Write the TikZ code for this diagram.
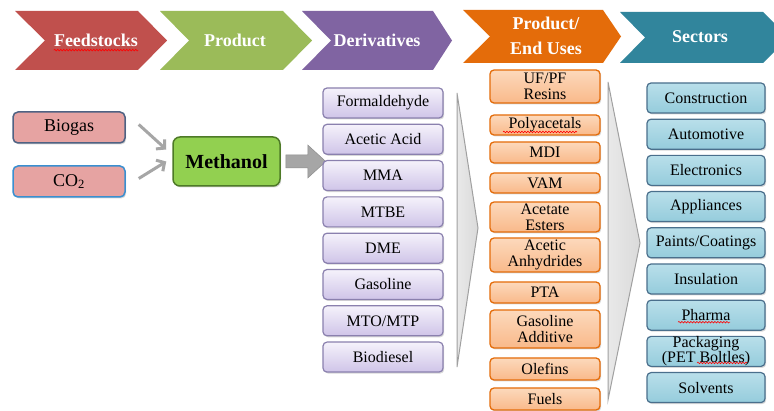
\documentclass[tikz,border=0pt]{standalone}
\usepackage{fontspec}
\setmainfont{Liberation Serif}
\usetikzlibrary{arrows.meta,calc,decorations.pathmorphing,shadows}

\definecolor{redC}{HTML}{C0504D}
\definecolor{greenC}{HTML}{9BBB59}
\definecolor{purpleC}{HTML}{8064A2}
\definecolor{orangeC}{HTML}{E46C0A}
\definecolor{tealC}{HTML}{31859C}
\definecolor{pinkFill}{HTML}{E6A3A2}
\definecolor{slateLine}{HTML}{4F6283}
\definecolor{blueLine}{HTML}{3A8FD0}
\definecolor{methFill}{HTML}{92D050}
\definecolor{methLine}{HTML}{4E7A27}
\definecolor{derTop}{HTML}{F5F2FB}
\definecolor{derBot}{HTML}{CFC4E8}
\definecolor{derLine}{HTML}{8A80AE}
\definecolor{euTop}{HTML}{FCD9BC}
\definecolor{euBot}{HTML}{F9B98A}
\definecolor{euLine}{HTML}{E46C0A}
\definecolor{secTop}{HTML}{B9DFEA}
\definecolor{secBot}{HTML}{95CCDC}
\definecolor{secLine}{HTML}{4A6F8C}
\definecolor{arrowGray}{HTML}{A6A6A6}
\definecolor{wedgeFill}{HTML}{DADADA}
\definecolor{wedgeLine}{HTML}{A0A0A0}

\tikzset{
  softshadow/.style={drop shadow={shadow xshift=1.2pt, shadow yshift=-1.5pt,
    opacity=0.25, fill=black!60}},
  hdr/.style={text=white, inner sep=0pt, align=center,
    font=\fontsize{18}{25}\selectfont\bfseries},
  srcbox/.style={fill=pinkFill, line width=1.5pt, rounded corners=5pt,
    minimum width=112pt, minimum height=31pt, inner sep=0pt, softshadow,
    font=\fontsize{18}{18}\selectfont},
  methbox/.style={fill=methFill, draw=methLine, line width=1.5pt,
    rounded corners=7pt, minimum width=107pt, minimum height=49pt,
    inner sep=0pt, softshadow, font=\fontsize{20}{20}\selectfont\bfseries},
  derbox/.style={draw=derLine, line width=1.2pt, rounded corners=4pt,
    top color=derTop, bottom color=derBot, minimum width=120pt,
    minimum height=30pt, inner sep=0pt, softshadow,
    font=\fontsize{16}{16}\selectfont},
  eubox/.style={draw=euLine, line width=1.3pt, rounded corners=4pt,
    top color=euTop, bottom color=euBot, minimum width=110pt,
    inner sep=0pt, align=center, softshadow,
    font=\fontsize{16}{16}\selectfont},
  secbox/.style={draw=secLine, line width=1.2pt, rounded corners=4pt,
    top color=secTop, bottom color=secBot, minimum width=118pt,
    minimum height=30pt, inner sep=0pt, align=center, softshadow,
    font=\fontsize{16}{16}\selectfont},
  feedarrow/.style={draw=arrowGray, line width=3pt,
    -{Straight Barb[length=6pt,width=13pt]}},
  wedge/.style={left color=wedgeFill!60!white, right color=wedgeFill,
    draw=wedgeLine, line width=1pt},
  spell/.style={draw=red, line width=0.6pt,
    decorate, decoration={snake, amplitude=0.8pt, segment length=3pt}},
}

\begin{document}
\begin{tikzpicture}[x=1pt,y=-1pt]
\clip (0,0) rectangle (774,411);
\fill[white] (0,0) rectangle (774,411);

% header chevrons
\fill[redC]    (15,11) -- (138,11) -- (167,40.5) -- (138,70) -- (15,70) -- (45,40.5) -- cycle;
\fill[greenC]  (160,11) -- (283,11) -- (312,40.5) -- (283,70) -- (160,70) -- (189,40.5) -- cycle;
\fill[purpleC] (302,11) -- (433,11) -- (452,40.5) -- (433,70) -- (302,70) -- (331,40.5) -- cycle;
\fill[orangeC] (463,10) -- (603,10) -- (621,36.5) -- (603,63) -- (463,63) -- (490,36.5) -- cycle;
\fill[tealC]   (620,12) -- (763,12) -- (789,37.5) -- (763,63) -- (620,63) -- (645,37.5) -- cycle;

\node[hdr] (hfeed) at (96,40) {Feedstocks};
\node[hdr] (hprod) at (235,40) {Product};
\node[hdr] (hderiv) at (377,40) {Derivatives};
\node[hdr] (hend) at (546,36) {Product/\\End Uses};
\node[hdr] (hsect) at (700,37) {Sectors};
\draw[spell] ($(hfeed.base west)+(0,4)$) -- ($(hfeed.base east)+(0,4)$);

% feedstocks and product
\node[srcbox, draw=slateLine] (bio) at (69,127.5) {Biogas};
\node[srcbox, draw=blueLine] (co2) at (69,181.5) {CO\textsubscript{2}};
\node[methbox] (meth) at (226.5,161.5) {Methanol};

\draw[feedarrow] ($(bio.east)+(13,-3)$) -- ($(meth.west)+(-6,-12)$);
\draw[feedarrow] ($(co2.east)+(13,-3)$) -- ($(meth.west)+(-6,0)$);

% block arrow into the derivatives column
\begin{scope}[shift={(meth.east)}]
\filldraw[fill=arrowGray, draw=arrowGray!85!black, line width=0.5pt]
  (5,-6.5) -- (27,-6.5) -- (27,-16.5) -- (45,0) -- (27,16.5) -- (27,6.5) -- (5,6.5) -- cycle;
\end{scope}

% derivatives
\node[derbox] (d1) at (383,103)   {Formaldehyde};
\node[derbox] (d2) at (383,139.3) {Acetic Acid};
\node[derbox] (d3) at (383,175.6) {MMA};
\node[derbox] (d4) at (383,211.9) {MTBE};
\node[derbox] (d5) at (383,248.2) {DME};
\node[derbox] (d6) at (383,284.5) {Gasoline};
\node[derbox] (d7) at (383,320.8) {MTO/MTP};
\node[derbox] (d8) at (383,357.1) {Biodiesel};

% grouping wedges
\path[wedge] (457,93) -- (478,228) -- (457,367) -- cycle;
\path[wedge] (608,82) -- (640,243) -- (608,400) -- cycle;

% product / end uses
\node[eubox, minimum height=33pt] (e1) at (545,86.5) {UF/PF\\Resins};
\node[eubox, minimum height=20pt] (e2) at (545,125) {Polyacetals};
\node[eubox, minimum height=21pt] (e3) at (545,152.5) {MDI};
\node[eubox, minimum height=20pt] (e4) at (545,183) {VAM};
\node[eubox, minimum height=30pt] (e5) at (545,217) {Acetate\\Esters};
\node[eubox, minimum height=34pt] (e6) at (545,255) {Acetic\\Anhydrides};
\node[eubox, minimum height=21pt] (e7) at (545,292.5) {PTA};
\node[eubox, minimum height=38pt] (e8) at (545,329) {Gasoline\\Additive};
\node[eubox, minimum height=22pt] (e9) at (545,369) {Olefins};
\node[eubox, minimum height=22pt] (e10) at (545,399) {Fuels};
\draw[spell] ($(e2.center)+(-42,7)$) -- ($(e2.center)+(32,7)$);

% sectors
\node[secbox] (s1) at (706,98)    {Construction};
\node[secbox] (s2) at (706,134.2) {Automotive};
\node[secbox] (s3) at (706,170.4) {Electronics};
\node[secbox] (s4) at (706,206.6) {Appliances};
\node[secbox] (s5) at (706,242.8) {Paints/Coatings};
\node[secbox] (s6) at (706,279)   {Insulation};
\node[secbox] (s7) at (706,315.2) {Pharma};
\node[secbox, font=\fontsize{16}{15}\selectfont] (s8) at (706,351.4) {Packaging\\(PET Boltles)};
\node[secbox] (s9) at (706,387.6) {Solvents};
\draw[spell] ($(s7.center)+(-28,7)$) -- ($(s7.center)+(24,7)$);
\draw[spell] ($(s8.center)+(-9,11.5)$) -- ($(s8.center)+(41,11.5)$);
\end{tikzpicture}
\end{document}
